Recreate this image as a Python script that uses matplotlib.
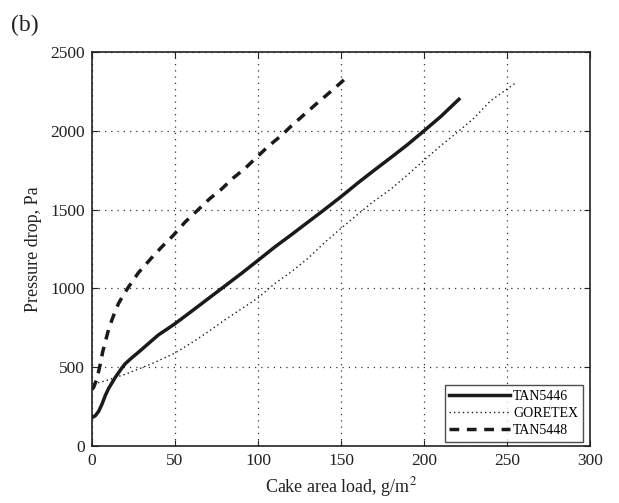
import matplotlib
matplotlib.use("Agg")
import matplotlib.pyplot as plt

# Pressure drop vs cake area load for three filter media
tan5446_x = [0, 2, 4, 6, 8, 10, 12, 14, 16, 18, 20, 24, 28, 34, 40, 45, 50, 60, 70,
             80, 90, 100, 110, 120, 130, 140, 150, 160, 170, 180, 190, 200, 210, 221]
tan5446_y = [180, 192, 220, 265, 320, 365, 400, 435, 465, 495, 522, 560, 595, 650,
             705, 740, 776, 855, 935, 1015, 1095, 1178, 1262, 1340, 1420, 1500, 1582,
             1668, 1750, 1830, 1912, 2000, 2090, 2200]

goretex_x = [1, 5, 10, 15, 20, 26, 36, 50, 60, 70, 80, 90, 100, 110, 120, 130, 140,
             150, 160, 170, 180, 190, 200, 210, 220, 230, 240, 250, 256]
goretex_y = [395, 405, 420, 438, 455, 480, 522, 590, 655, 725, 800, 870, 940, 1030,
             1105, 1190, 1290, 1381, 1470, 1555, 1630, 1720, 1814, 1905, 1990, 2080,
             2190, 2265, 2310]

tan5448_x = [0, 1, 2, 3.5, 5, 6.5, 8, 10, 12, 14, 16, 19, 22, 28, 36, 42, 49, 56, 64,
             71, 78, 85, 92, 99, 106, 114, 121, 128, 135, 145, 153]
tan5448_y = [360, 372, 400, 450, 520, 600, 660, 740, 800, 855, 905, 960, 1009, 1100,
             1195, 1263, 1337, 1420, 1500, 1570, 1630, 1700, 1760, 1830, 1900, 1970,
             2040, 2105, 2170, 2260, 2335]

x_ticks = [0, 50, 100, 150, 200, 250, 300]
y_ticks = [0, 500, 1000, 1500, 2000, 2500]

plt.rcParams["font.family"] = ["Liberation Serif", "DejaVu Serif"]
plt.rcParams["mathtext.fontset"] = "stix"

fig = plt.figure(figsize=(6.19, 5.03), dpi=100)
ax = fig.add_axes([0.1486, 0.1133, 0.8047, 0.7833])

ax.plot(tan5446_x, tan5446_y, color="#1a1a1a", lw=2.5, ls="-", label="TAN5446")
ax.plot(goretex_x, goretex_y, color="#1a1a1a", lw=1.0, ls=(0, (1, 2.2)), label="GORETEX")
ax.plot(tan5448_x, tan5448_y, color="#1a1a1a", lw=2.5, ls=(0, (2.8, 2.2)), label="TAN5448")

ax.set_xlim(0, 300)
ax.set_ylim(0, 2500)
ax.set_xticks(x_ticks)
ax.set_yticks(y_ticks)
ax.tick_params(direction="in", top=True, right=True, length=4, width=0.8,
               labelsize=12.5, colors="#222222", pad=5)
ax.grid(True, color="#333333", ls=(0, (1, 4)), lw=0.9)
for s in ax.spines.values():
    s.set_linewidth(1.2)
    s.set_color("#222222")

ax.set_xlabel("Cake area load, g/m$^2$", fontsize=13, color="#222222", labelpad=4)
ax.set_ylabel("Pressure drop, Pa", fontsize=13, color="#222222", labelpad=6)

leg = ax.legend(loc="lower right", bbox_to_anchor=(0.986, 0.01), borderaxespad=0,
                fontsize=10, frameon=True, fancybox=False, edgecolor="#222222",
                handlelength=4.4, handletextpad=0.2, borderpad=0.35,
                labelspacing=0.3)
leg.get_frame().set_linewidth(1.0)

fig.text(0.018, 0.95, "(b)", fontsize=17, color="#222222", va="center", ha="left")

fig.savefig("out.png", dpi=100)
